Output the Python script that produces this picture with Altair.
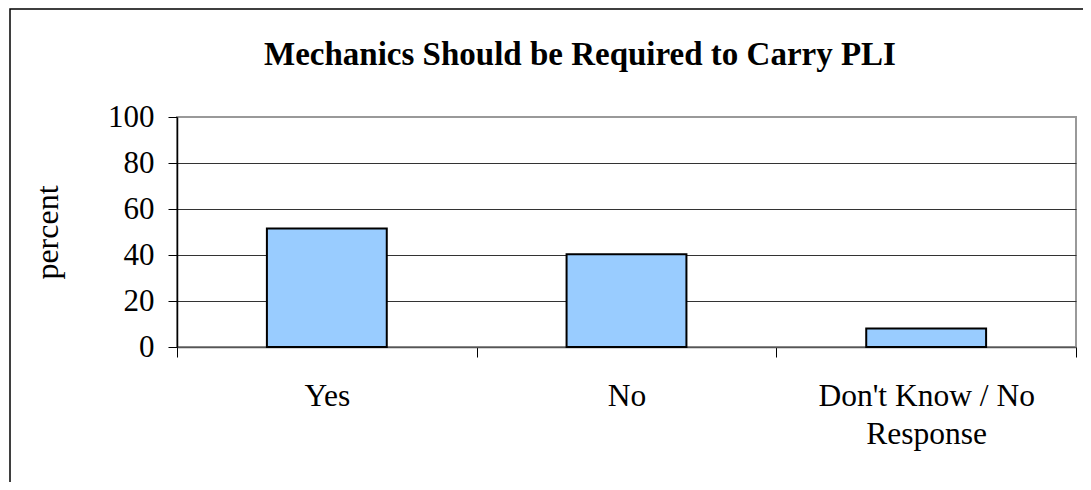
import altair as alt
import pandas as pd

categories = ["Yes", "No", "Don't Know / No Response"]
values = [51.5, 40.3, 8.0]
y_ticks = [0, 20, 40, 60, 80, 100]
title_text = "Mechanics Should be Required to Carry PLI"

df = pd.DataFrame({"response": categories, "percent": values})

FONT = "Liberation Serif"

label_expr = ("datum.label == \"Don't Know / No Response\" ? "
              "[\"Don't Know / No\", \"Response\"] : datum.label")

bars = alt.Chart(df).mark_bar(
    color="#99CCFF", stroke="#000000", strokeWidth=2,
    width=alt.RelativeBandSize(0.4),
).encode(
    x=alt.X(
        "response:N", sort=categories, title=None,
        scale=alt.Scale(paddingInner=0, paddingOuter=0),
        axis=alt.Axis(
            labelAngle=0, tickBand="extent", grid=False,
            domainColor="#555555", domainWidth=1.5,
            tickColor="#000000", tickSize=10, tickWidth=1,
            labelFont=FONT, labelFontSize=31.5, labelColor="#000000",
            labelPadding=23, labelLineHeight=38, labelExpr=label_expr,
            labelLimit=0,
        ),
    ),
    y=alt.Y(
        "percent:Q", title="percent",
        scale=alt.Scale(domain=[0, 100]),
        axis=alt.Axis(
            values=y_ticks, domainColor="#000000", domainWidth=1.5,
            tickColor="#000000", tickSize=9, tickWidth=1,
            labelFont=FONT, labelFontSize=31, labelColor="#000000", labelPadding=14,
            grid=True, gridColor="#333333", gridWidth=1,
            gridOpacity={"condition": {"test": "datum.value === 0 || datum.value === 100", "value": 0}, "value": 1},
            titleFont=FONT, titleFontSize=32, titleFontWeight="normal", titleColor="#000000",
            titlePadding=43,
        ),
    ),
)

border = alt.Chart(alt.Data(values=[{"a": 1}])).mark_rect(
    filled=False, stroke="#000000", strokeWidth=1.5
).encode(
    x=alt.value(-167), x2=alt.value(1200), y=alt.value(-108), y2=alt.value(600)
)

title = alt.Chart(alt.Data(values=[{"t": title_text}])).mark_text(
    font=FONT, fontSize=33, fontWeight="bold", color="#000000",
    align="center", baseline="alphabetic",
).encode(
    text="t:N", x=alt.value(403), y=alt.value(-52)
)

chart = alt.layer(border, title, bars).properties(
    width=899,
    height=230,
    autosize=alt.AutoSizeParams(type="none"),
    padding={"left": 169, "top": 109, "right": 7, "bottom": 135},
).configure_view(stroke="#999999", strokeWidth=2)

chart.save("out.html", embed_options={"renderer": "svg", "actions": False})
